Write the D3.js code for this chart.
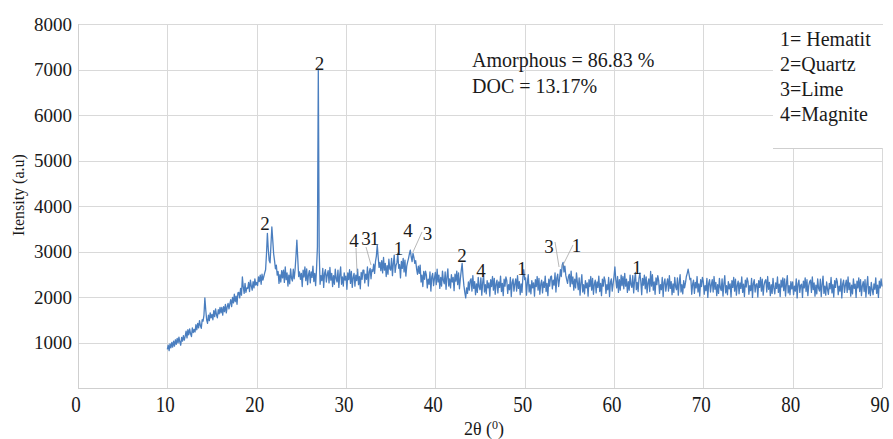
<!DOCTYPE html>
<html><head><meta charset="utf-8">
<script src="https://cdn.jsdelivr.net/npm/d3@7"></script>
<style>
body{margin:0;background:#fff}
svg{display:block}
</style>
</head><body>
<svg id="chart" width="893" height="439"></svg>
<script>
// ---- data ----
const angleStart = 10.0;   // first sample (degrees 2θ)
const angleStep = 0.1;     // sampling step (degrees)
const intensity = [
 850, 940, 820, 970, 880,1000, 900,1030, 920,1060,
 960,1090, 990,1120,1010, 940,1110,1030,1150,1050,
1140,1250,1100,1280,1170,1300,1190,1130,1320,1220,
1290,1230,1390,1280,1420,1320,1480,1370,1310,1500,
1470,1600,1980,1720,1500,1420,1600,1480,1650,1540,
1620,1500,1700,1570,1740,1610,1540,1720,1630,1770,
1650,1770,1600,1790,1680,1840,1650,1780,1860,1740,
1850,1940,1790,1990,1870,2060,1900,2020,1840,2090,
2100,1980,2190,2040,2440,2220,2080,2300,2100,2200,
2190,2320,2120,2370,2240,2150,2340,2200,2400,2260,
2320,2250,2440,2340,2480,2280,2500,2370,2450,2530,
2600,2950,3400,3050,2800,2750,3150,3540,3250,2950,
2800,2620,2700,2480,2560,2300,2490,2330,2580,2420,
2590,2320,2660,2380,2530,2240,2480,2290,2620,2410,
2350,2610,2400,2600,2900,3250,2850,2450,2550,2390,
2520,2230,2590,2440,2660,2360,2620,2270,2490,2580,
2310,2550,2430,2680,2340,2520,2250,2610,3100,7000,
3000,2280,2470,2360,2630,2210,2520,2600,2330,2490,
2580,2310,2650,2370,2520,2230,2470,2280,2610,2400,
2330,2590,2210,2480,2660,2280,2440,2240,2530,2370,
2460,2170,2530,2380,2600,2300,2560,2210,2430,2520,
2240,2480,2360,2610,2270,2450,2180,2540,2390,2590,
2590,2310,2500,2390,2660,2240,2550,2630,2400,2600,
2560,2720,2520,2780,2900,3140,2880,2650,2760,2580,
2800,2530,2870,2590,2740,2450,2690,2500,2830,2620,
2590,2850,2470,2740,2920,2540,2700,2750,2960,2630,
2710,2420,2780,2630,2850,2550,2810,2460,2680,2770,
2850,2950,3030,2880,2780,2960,2870,2740,2800,2620,
2500,2680,2520,2700,2330,2480,2230,2560,2390,2570,
2480,2200,2390,2280,2550,2130,2440,2520,2250,2410,
2540,2270,2610,2330,2480,2190,2430,2240,2570,2360,
2290,2550,2170,2440,2620,2240,2400,2200,2490,2330,
2430,2140,2500,2350,2570,2270,2530,2180,2400,2580,
2740,2450,2250,2100,1980,2200,2080,2330,2150,2360,
2400,2130,2470,2190,2340,2050,2290,2100,2430,2220,
2160,2420,2040,2310,2490,2110,2270,2070,2360,2200,
2310,2020,2380,2230,2450,2150,2410,2060,2280,2370,
2090,2330,2210,2460,2120,2300,2030,2390,2240,2440,
2360,2080,2270,2160,2430,2010,2320,2400,2130,2290,
2400,2130,2470,2190,2340,2050,2290,2100,2430,2600,
2380,2420,2040,2310,2490,2110,2270,2070,2360,2200,
2310,2020,2380,2230,2450,2150,2410,2060,2280,2370,
2090,2330,2210,2460,2120,2300,2030,2390,2240,2440,
2460,2180,2370,2260,2530,2110,2420,2500,2230,2390,
2600,2450,2700,2760,2550,2680,2480,2380,2300,2450,
2500,2230,2570,2290,2440,2150,2390,2200,2530,2320,
2160,2420,2040,2310,2490,2110,2270,2070,2360,2200,
2310,2020,2380,2230,2450,2150,2410,2060,2280,2370,
2090,2330,2210,2460,2120,2300,2030,2390,2240,2440,
2360,2080,2270,2160,2430,2010,2320,2400,2130,2290,
2450,2660,2380,2200,2450,2100,2380,2150,2480,2250,
2450,2180,2520,2240,2390,2100,2340,2150,2480,2270,
2210,2470,2090,2360,2540,2160,2320,2120,2410,2530,
2340,2050,2410,2260,2480,2180,2440,2090,2310,2400,
2120,2560,2240,2490,2150,2330,2060,2420,2270,2470,
2360,2080,2270,2160,2430,2010,2320,2400,2130,2290,
2400,2130,2470,2190,2340,2050,2290,2100,2430,2220,
2160,2420,2040,2310,2490,2110,2270,2070,2360,2200,
2310,2450,2520,2610,2500,2380,2410,2060,2280,2370,
2080,2320,2200,2450,2110,2290,2020,2380,2230,2430,
2340,2060,2250,2140,2410,1990,2300,2380,2110,2270,
2380,2110,2450,2170,2320,2030,2270,2080,2410,2200,
2140,2400,2020,2290,2470,2090,2250,2050,2340,2180,
2290,2000,2360,2210,2430,2130,2390,2040,2260,2350,
2070,2310,2190,2440,2100,2280,2010,2370,2220,2420,
2340,2060,2250,2140,2410,1990,2300,2380,2110,2270,
2290,2000,2360,2210,2430,2130,2390,2040,2260,2350,
2380,2110,2450,2170,2320,2030,2270,2080,2410,2200,
2070,2310,2190,2440,2100,2280,2010,2370,2220,2420,
2140,2400,2020,2290,2470,2090,2250,2050,2340,2180,
2330,2050,2240,2130,2400,1980,2290,2370,2100,2260,
2280,1990,2350,2200,2420,2120,2380,2030,2250,2340,
2370,2100,2440,2160,2310,2020,2260,2070,2400,2190,
2130,2390,2010,2280,2460,2080,2240,2040,2330,2170,
2060,2300,2180,2430,2090,2270,2000,2360,2210,2410,
2330,2050,2240,2130,2400,1980,2290,2370,2100,2260,
2370,2100,2440,2160,2310,2020,2260,2070,2400,2190,
2280,1990,2350,2200,2420,2120,2380,2030,2250,2340,
2120,2380,2000,2270,2450,2070,2230,2030,2320,2160,
2050,2290,2170,2420,2080,2260,1990,2350,2200,2400,
2230
];
const xTicks = [0, 10, 20, 30, 40, 50, 60, 70, 80, 90];
const yTicks = [1000, 2000, 3000, 4000, 5000, 6000, 7000, 8000];
const xDomain = [0, 90];
const yDomain = [0, 8000];
// peak labels: phase number, anchor angle, anchor intensity (text baseline)
const peakLabels = [
  ["2", 20.93, 3472], ["2", 27.03, 6989],
  ["4", 30.9, 3099], ["3", 32.24, 3143], ["1", 33.19, 3143],
  ["1", 35.88, 2923], ["4", 36.94, 3319], ["3", 39.12, 3253],
  ["2", 42.99, 2769], ["4", 45.11, 2440], ["1", 49.70, 2484],
  ["3", 52.73, 2967], ["1", 55.81, 2989], ["1", 62.58, 2505]
];
// leader lines: [angle1, int1, angle2, int2]
const leaders = [
  [31.12, 3077, 31.23, 2550],
  [32.24, 3099, 32.80, 2703],
  [38.51, 3429, 37.50, 2989],
  [53.40, 3209, 53.85, 2659],
  [55.41, 3143, 54.18, 2659]
];
const legendItems = ["1= Hematit", "2=Quartz", "3=Lime", "4=Magnite"];
const notes = ["Amorphous = 86.83 %", "DOC = 13.17%"];
const yTitle = "Itensity (a.u)";

// ---- drawing ----
const FONT = "'Liberation Serif', 'DejaVu Serif', 'Times New Roman', Times, serif";
const svg = d3.select("#chart").attr("font-family", FONT);
const x = d3.scaleLinear().domain(xDomain).range([78, 882]);
const y = d3.scaleLinear().domain(yDomain).range([388, 24]);
const grid = "#d9d9d9";

svg.append("g").selectAll("line").data(yTicks).join("line")
  .attr("x1", x(0)).attr("x2", x(90))
  .attr("y1", d => Math.round(y(d)) + 0.5).attr("y2", d => Math.round(y(d)) + 0.5)
  .attr("stroke", grid).attr("stroke-width", 1);
svg.append("g").selectAll("line").data(xTicks.slice(1)).join("line")
  .attr("y1", y(8000)).attr("y2", y(0))
  .attr("x1", d => Math.round(x(d)) + 0.5).attr("x2", d => Math.round(x(d)) + 0.5)
  .attr("stroke", grid).attr("stroke-width", 1);
svg.append("line").attr("x1", x(0)+0.5).attr("x2", x(0)+0.5).attr("y1", y(8000)).attr("y2", y(0)+0.5)
  .attr("stroke", "#cfcfcf");
svg.append("line").attr("x1", x(0)).attr("x2", x(90)).attr("y1", Math.round(y(0))+0.5).attr("y2", Math.round(y(0))+0.5)
  .attr("stroke", "#cfcfcf");

function txt(sel) { return sel.attr("font-family", FONT).attr("fill", "#1a1a1a"); }

// tick labels
txt(svg.append("g").selectAll("text").data(yTicks).join("text"))
  .attr("x", x(0) - 6).attr("y", d => y(d)).attr("dy", "0.35em")
  .attr("text-anchor", "end").attr("font-size", 19).text(d => d);
txt(svg.append("g").selectAll("text").data(xTicks).join("text"))
  .attr("transform", d => `translate(${x(d) - 2},${y(0) + 24}) scale(1,1.2)`)
  .attr("text-anchor", "middle").attr("font-size", 19).text(d => d);

// axis titles
txt(svg.append("text")).attr("transform", `translate(24,195) rotate(-90)`)
  .attr("text-anchor", "middle").attr("font-size", 16).text(yTitle);
const xt = txt(svg.append("text")).attr("x", (x(0)+x(90))/2 + 4).attr("y", 435)
  .attr("text-anchor", "middle").attr("font-size", 18);
xt.append("tspan").text("2θ (");
xt.append("tspan").attr("font-size", 12).attr("dy", -6).text("0");
xt.append("tspan").attr("dy", 6).text(")");

// the pattern
const line = d3.line()
  .x((d, i) => x(angleStart + i * angleStep))
  .y(d => y(d));
svg.append("path").datum(intensity).attr("d", line)
  .attr("fill", "none").attr("stroke", "#4a7ebf").attr("stroke-width", 1.3)
  .attr("stroke-linejoin", "round");

// leaders
svg.append("g").selectAll("line").data(leaders).join("line")
  .attr("x1", d => x(d[0])).attr("y1", d => y(d[1]))
  .attr("x2", d => x(d[2])).attr("y2", d => y(d[3]))
  .attr("stroke", "#a6a6a6").attr("stroke-width", 0.8);

// peak labels
txt(svg.append("g").selectAll("text").data(peakLabels).join("text"))
  .attr("x", d => x(d[1])).attr("y", d => y(d[2]))
  .attr("text-anchor", "middle").attr("font-size", 19).text(d => d[0]);

// notes
txt(svg.append("g").selectAll("text").data(notes).join("text"))
  .attr("x", 472).attr("y", (d, i) => 67 + i * 26)
  .attr("font-size", 20).text(d => d);

// legend box
svg.append("rect").attr("x", 773).attr("y", y(8000) + 1).attr("width", 120).attr("height", 123)
  .attr("fill", "#fff");
svg.append("line").attr("x1", 773).attr("x2", x(90)).attr("y1", 148.5).attr("y2", 148.5)
  .attr("stroke", "#cfcfcf");
txt(svg.append("g").selectAll("text").data(legendItems).join("text"))
  .attr("x", 780).attr("y", (d, i) => 46 + i * 25)
  .attr("font-size", 20).text(d => d);
</script>
</body></html>
